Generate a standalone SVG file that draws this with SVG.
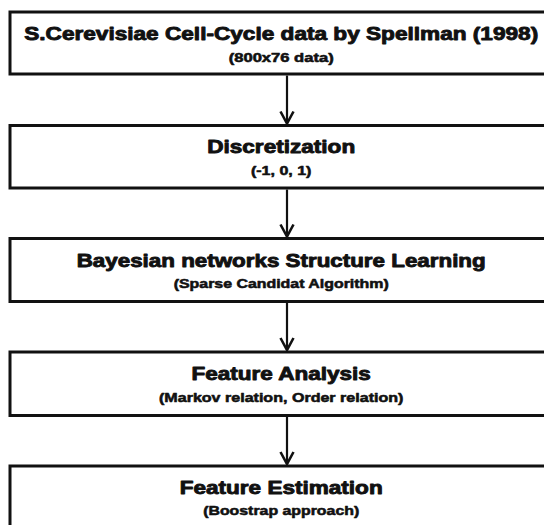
<svg xmlns="http://www.w3.org/2000/svg" width="544" height="525" viewBox="0 0 544 525">
  <style>
    .box { fill: #ffffff; stroke: #111111; stroke-width: 3; }
    .title { font-family: "Liberation Sans", Arial, sans-serif; font-weight: bold; font-size: 18.5px; fill: #111111; stroke: #111111; stroke-width: 0.9; stroke-linejoin: round; text-anchor: middle; }
    .sub { font-family: "Liberation Sans", Arial, sans-serif; font-weight: bold; font-size: 12.5px; fill: #111111; stroke: #111111; stroke-width: 0.55; stroke-linejoin: round; text-anchor: middle; }
    .conn { stroke: #111111; stroke-width: 2.2; fill: none; }
  </style>
  <defs>
    <marker id="arrow" markerUnits="userSpaceOnUse" viewBox="-15 -9 17 18" markerWidth="17" markerHeight="18" refX="0" refY="0" orient="auto" overflow="visible">
      <path d="M -12 -6.5 L 0 0 L -12 6.5" fill="none" stroke="#111111" stroke-width="2.6" stroke-linejoin="miter"/>
    </marker>
  </defs>
  <rect width="544" height="525" fill="#ffffff"/>

  <g id="node-data">
    <rect class="box" x="10" y="12" width="560" height="62"/>
    <text class="title" x="281.2" y="40" textLength="514" lengthAdjust="spacingAndGlyphs">S.Cerevisiae Cell-Cycle data by Spellman (1998)</text>
    <text class="sub" x="281.2" y="61.5" textLength="105" lengthAdjust="spacingAndGlyphs">(800x76 data)</text>
  </g>

  <g id="node-discretization">
    <rect class="box" x="10" y="125.5" width="560" height="62.5"/>
    <text class="title" x="281.2" y="152.5" textLength="148" lengthAdjust="spacingAndGlyphs">Discretization</text>
    <text class="sub" x="281.2" y="175" textLength="60.5" lengthAdjust="spacingAndGlyphs">(-1, 0, 1)</text>
  </g>

  <g id="node-bn">
    <rect class="box" x="10" y="238.5" width="560" height="63"/>
    <text class="title" x="281.2" y="266.5" textLength="409" lengthAdjust="spacingAndGlyphs">Bayesian networks Structure Learning</text>
    <text class="sub" x="281.2" y="288" textLength="215" lengthAdjust="spacingAndGlyphs">(Sparse Candidat Algorithm)</text>
  </g>

  <g id="node-analysis">
    <rect class="box" x="10" y="352" width="560" height="63.5"/>
    <text class="title" x="281.2" y="380.3" textLength="179.3" lengthAdjust="spacingAndGlyphs">Feature Analysis</text>
    <text class="sub" x="281.2" y="401.5" textLength="244.4" lengthAdjust="spacingAndGlyphs">(Markov relation, Order relation)</text>
  </g>

  <g id="node-estimation">
    <rect class="box" x="10" y="466" width="560" height="80"/>
    <text class="title" x="281.2" y="493.7" textLength="203" lengthAdjust="spacingAndGlyphs">Feature Estimation</text>
    <text class="sub" x="281.2" y="515.3" textLength="156" lengthAdjust="spacingAndGlyphs">(Boostrap approach)</text>
  </g>

  <g id="connectors">
    <line class="conn" x1="287" y1="75.5" x2="287" y2="123.5" marker-end="url(#arrow)"/>
    <line class="conn" x1="287" y1="189.5" x2="287" y2="236.5" marker-end="url(#arrow)"/>
    <line class="conn" x1="287" y1="303" x2="287" y2="350" marker-end="url(#arrow)"/>
    <line class="conn" x1="287" y1="417" x2="287" y2="464" marker-end="url(#arrow)"/>
  </g>
</svg>
